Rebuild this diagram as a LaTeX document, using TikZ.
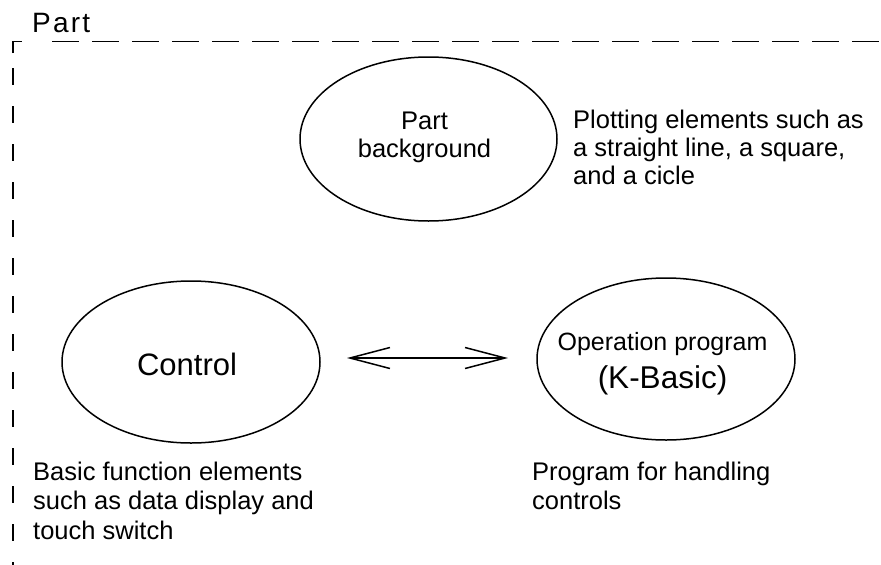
\documentclass[tikz,border=0pt]{standalone}
\usepackage{fontspec}
\setmainfont{Liberation Sans}
\newfontfamily\titlefont[LetterSpace=8]{Liberation Sans}
\usetikzlibrary{shapes.geometric,arrows.meta}
\begin{document}
\begin{tikzpicture}[x=1pt,y=-1pt,
  ell/.style={draw, ellipse, inner sep=0pt, line width=1.5pt, minimum width=258pt, minimum height=162pt},
  desc/.style={anchor=base west, inner sep=0pt, font=\fontsize{25.5}{28}\selectfont},
  ctext/.style={anchor=base, inner sep=0pt},
  hdash/.style={line width=1.5pt, dash pattern=on 27pt off 13pt},
  vdash/.style={line width=1.5pt, dash pattern=on 17pt off 21pt},
  barb/.style={line width=1.5pt, {Straight Barb[length=40pt,width=21pt]}-{Straight Barb[length=40pt,width=21pt]}}
]
\useasboundingbox (0,0) rectangle (881,565);
% frame
\coordinate (fc) at (13,41.5);
\coordinate (fh) at (52,41.5);
\coordinate (fhe) at (881,41.5);
\coordinate (fv) at (13,68);
\coordinate (fve) at (13,565);
\draw[line width=1.5pt] (13,53) -- (fc) -- (22,41.5);
\draw[hdash] (fh) -- (fhe);
\draw[vdash] (fv) -- (fve);
\node[anchor=base west, inner sep=0pt, font=\titlefont\fontsize{28}{28}\selectfont] (title) at (32,32) {Part};
% ellipses
\node[ell, minimum width=257pt, minimum height=164pt] (bg) at (428.5,139) {};
\node[ctext, font=\fontsize{25.5}{28}\selectfont] (bgt1) at (424.5,129) {Part};
\node[ctext, font=\fontsize{25.5}{28}\selectfont] (bgt2) at (424.5,157) {background};
\node[ell] (ctrl) at (191,362) {};
\node[ctext, font=\fontsize{31}{31}\selectfont] (ctrlt) at (187,375) {Control};
\node[ell] (op) at (666,359) {};
\node[ctext, font=\fontsize{25}{25}\selectfont] (opt1) at (662.5,350) {Operation program};
\node[ctext, font=\fontsize{31.5}{31.5}\selectfont] (opt2) at (662.5,388) {(K-Basic)};
% descriptions
\node[desc] (bgd1) at (573,128) {Plotting elements such as};
\node[desc] (bgd2) at (573,156) {a straight line, a square,};
\node[desc] (bgd3) at (573,184) {and a cicle};
\node[desc] (cd1) at (33,480) {Basic function elements};
\node[desc] (cd2) at (33,509.5) {such as data display and};
\node[desc] (cd3) at (33,539) {touch switch};
\node[desc] (od1) at (532,480) {Program for handling};
\node[desc] (od2) at (532,509.5) {controls};
% arrow
\coordinate (al) at (347,358);
\coordinate (ar) at (508,358);
\draw[barb] (al) -- (ar);
\end{tikzpicture}
\end{document}
